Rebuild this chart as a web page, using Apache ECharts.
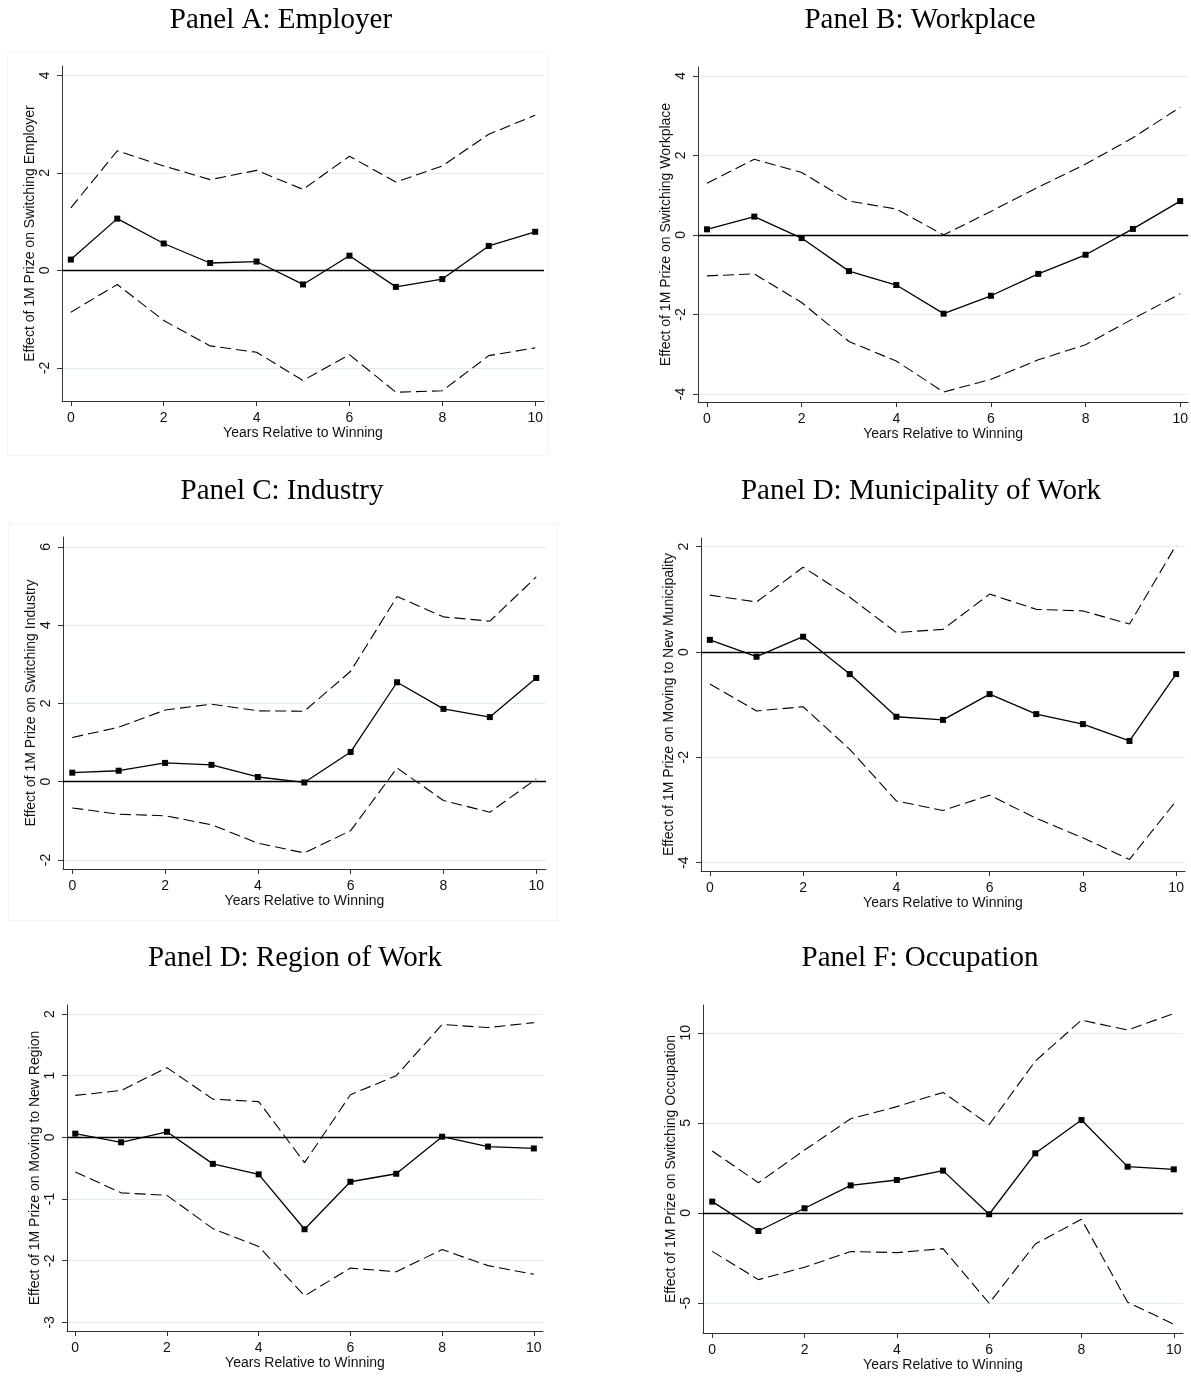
<!DOCTYPE html>
<html>
<head>
<meta charset="utf-8">
<title>Effect of 1M Prize on job switching</title>
<script src="https://cdn.jsdelivr.net/npm/echarts@6/dist/echarts.min.js"></script>
<style>
    html, body { margin: 0; padding: 0; background: #fff; }
    #chart { width: 1191px; height: 1384px; }
</style>
</head>
<body>
<div id="chart"></div>
<script>
// years after the win (x axis) and the ticks shown on it
var years = [0, 1, 2, 3, 4, 5, 6, 7, 8, 9, 10];
var xTicks = [0, 2, 4, 6, 8, 10];

var panelTitles = ['Panel A: Employer', 'Panel B: Workplace', 'Panel C: Industry',
    'Panel D: Municipality of Work', 'Panel D: Region of Work', 'Panel F: Occupation'];
var yTitles = ['Effect of 1M Prize on Switching Employer', 'Effect of 1M Prize on Switching Workplace',
    'Effect of 1M Prize on Switching Industry', 'Effect of 1M Prize on Moving to New Municipality',
    'Effect of 1M Prize on Moving to New Region', 'Effect of 1M Prize on Switching Occupation'];
var xTitle = 'Years Relative to Winning';

// Panel A: employer
var employerEst = [0.22, 1.06, 0.55, 0.15, 0.18, -0.29, 0.30, -0.34, -0.18, 0.50, 0.79];
var employerHi = [1.28, 2.45, 2.14, 1.86, 2.05, 1.66, 2.34, 1.81, 2.14, 2.79, 3.18];
var employerLo = [-0.86, -0.29, -1.03, -1.55, -1.68, -2.26, -1.73, -2.50, -2.47, -1.75, -1.59];
var employerTicks = [-2, 0, 2, 4];

// Panel B: workplace
var workplaceEst = [0.14, 0.46, -0.08, -0.91, -1.26, -1.98, -1.53, -0.98, -0.50, 0.15, 0.85];
var workplaceHi = [1.30, 1.90, 1.57, 0.85, 0.65, 0.00, 0.59, 1.20, 1.78, 2.44, 3.21];
var workplaceLo = [-1.03, -0.98, -1.70, -2.68, -3.17, -3.95, -3.63, -3.14, -2.76, -2.11, -1.48];
var workplaceTicks = [-4, -2, 0, 2, 4];

// Panel C: industry
var industryEst = [0.23, 0.28, 0.48, 0.43, 0.12, -0.02, 0.76, 2.54, 1.86, 1.65, 2.65];
var industryHi = [1.13, 1.39, 1.83, 1.98, 1.81, 1.80, 2.82, 4.73, 4.21, 4.10, 5.23];
var industryLo = [-0.67, -0.83, -0.87, -1.10, -1.57, -1.82, -1.25, 0.35, -0.48, -0.78, 0.07];
var industryTicks = [-2, 0, 2, 4, 6];

// Panel D: municipality of work
var municipalityEst = [0.23, -0.09, 0.29, -0.42, -1.23, -1.29, -0.80, -1.18, -1.37, -1.69, -0.42];
var municipalityHi = [1.08, 0.95, 1.61, 1.04, 0.37, 0.43, 1.10, 0.81, 0.78, 0.53, 2.03];
var municipalityLo = [-0.61, -1.12, -1.04, -1.85, -2.83, -3.01, -2.72, -3.16, -3.53, -3.94, -2.83];
var municipalityTicks = [-4, -2, 0, 2];

// Panel D (second): region of work
var regionEst = [0.06, -0.08, 0.09, -0.43, -0.60, -1.49, -0.72, -0.59, 0.01, -0.15, -0.18];
var regionHi = [0.68, 0.76, 1.13, 0.62, 0.58, -0.41, 0.69, 1.00, 1.83, 1.78, 1.86];
var regionLo = [-0.56, -0.90, -0.94, -1.48, -1.77, -2.57, -2.12, -2.18, -1.82, -2.08, -2.22];
var regionTicks = [-3, -2, -1, 0, 1, 2];

// Panel F: occupation
var occupationEst = [0.63, -1.00, 0.26, 1.53, 1.83, 2.35, -0.07, 3.31, 5.16, 2.57, 2.42];
var occupationHi = [3.44, 1.68, 3.49, 5.23, 5.90, 6.69, 4.90, 8.43, 10.70, 10.15, 11.07];
var occupationLo = [-2.13, -3.70, -3.01, -2.14, -2.20, -1.98, -5.01, -1.72, -0.35, -4.95, -6.17];
var occupationTicks = [-5, 0, 5, 10];

// where each panel sits on the page (pixels) and how far its axes run
var layout = [
    {left: 62, top: 66, width: 482, height: 335, xMin: -0.19, xMax: 10.19, yMin: -2.68, yMax: 4.19, titleX: 281, titleY: 6, nameGap: 24},
    {left: 698, top: 67, width: 491, height: 335, xMin: -0.19, xMax: 10.17, yMin: -4.2, yMax: 4.22, titleX: 920, titleY: 6, nameGap: 25},
    {left: 63, top: 537, width: 483, height: 332, xMin: -0.2, xMax: 10.21, yMin: -2.23, yMax: 6.25, titleX: 282, titleY: 477, nameGap: 24},
    {left: 701, top: 538, width: 484, height: 333, xMin: -0.19, xMax: 10.19, yMin: -4.16, yMax: 2.165, titleX: 921, titleY: 477, nameGap: 22},
    {left: 67, top: 1005, width: 476, height: 326, xMin: -0.18, xMax: 10.2, yMin: -3.14, yMax: 2.146, titleX: 295, titleY: 944, nameGap: 24},
    {left: 703, top: 1005, width: 480, height: 328, xMin: -0.2, xMax: 10.2, yMin: -6.66, yMax: 11.54, titleX: 920, titleY: 944, nameGap: 24}
];

var panels = [
    {est: employerEst, hi: employerHi, lo: employerLo, ticks: employerTicks},
    {est: workplaceEst, hi: workplaceHi, lo: workplaceLo, ticks: workplaceTicks},
    {est: industryEst, hi: industryHi, lo: industryLo, ticks: industryTicks},
    {est: municipalityEst, hi: municipalityHi, lo: municipalityLo, ticks: municipalityTicks},
    {est: regionEst, hi: regionHi, lo: regionLo, ticks: regionTicks},
    {est: occupationEst, hi: occupationHi, lo: occupationLo, ticks: occupationTicks}
];

var sansFont = '"Liberation Sans", Arial, sans-serif';
var serifFont = '"Liberation Serif", "Times New Roman", serif';
var axisColor = '#333';

function pairs(values) {
    return years.map(function (y, i) { return [y, values[i]]; });
}

var option = {
    backgroundColor: '#fff',
    animation: false,
    title: [],
    grid: [],
    xAxis: [],
    yAxis: [],
    series: [],
    // faint frames that show round two of the panels
    graphic: [
        {type: 'rect', silent: true, shape: {x: 7.5, y: 52.5, width: 541, height: 403},
            style: {fill: null, stroke: '#f3f3f3', lineWidth: 1}},
        {type: 'rect', silent: true, shape: {x: 8.5, y: 523.5, width: 549, height: 397},
            style: {fill: null, stroke: '#f3f3f3', lineWidth: 1}}
    ]
};

panels.forEach(function (p, i) {
    var l = layout[i];

    option.title.push({
        text: panelTitles[i],
        left: l.titleX,
        top: l.titleY,
        textAlign: 'center',
        padding: 0,
        textStyle: {fontFamily: serifFont, fontSize: 29, fontWeight: 'normal', color: '#000'}
    });

    option.grid.push({left: l.left, top: l.top, width: l.width, height: l.height, containLabel: false});

    option.xAxis.push({
        gridIndex: i,
        type: 'value',
        min: l.xMin,
        max: l.xMax,
        name: xTitle,
        nameLocation: 'middle',
        nameGap: 24,
        nameTextStyle: {fontFamily: sansFont, fontSize: 14, color: '#111'},
        axisLine: {show: true, onZero: false, lineStyle: {color: axisColor, width: 1}},
        axisTick: {show: true, customValues: xTicks, length: 5, lineStyle: {color: axisColor}},
        axisLabel: {customValues: xTicks, margin: 10, fontFamily: sansFont, fontSize: 14, color: '#111'},
        splitLine: {show: false}
    });

    option.yAxis.push({
        gridIndex: i,
        type: 'value',
        min: l.yMin,
        max: l.yMax,
        name: yTitles[i],
        nameLocation: 'middle',
        nameRotate: 90,
        nameGap: l.nameGap,
        nameTextStyle: {fontFamily: sansFont, fontSize: 14, color: '#111'},
        axisLine: {show: true, onZero: false, lineStyle: {color: axisColor, width: 1}},
        axisTick: {show: true, customValues: p.ticks, length: 5, lineStyle: {color: axisColor}},
        axisLabel: {customValues: p.ticks, rotate: 90, margin: 10, fontFamily: sansFont, fontSize: 14, color: '#111'},
        splitLine: {show: true, lineStyle: {color: '#e4eded', width: 1}}
    });

    // upper and lower bounds
    [p.hi, p.lo].forEach(function (bound) {
        option.series.push({
            type: 'line',
            xAxisIndex: i,
            yAxisIndex: i,
            data: pairs(bound),
            symbol: 'none',
            silent: true,
            lineStyle: {color: '#000', width: 1.1, type: [11, 5]}
        });
    });

    // point estimate with the zero line
    option.series.push({
        type: 'line',
        xAxisIndex: i,
        yAxisIndex: i,
        data: pairs(p.est),
        symbol: 'rect',
        symbolSize: 6,
        silent: true,
        itemStyle: {color: '#000'},
        lineStyle: {color: '#000', width: 1.3},
        markLine: {
            silent: true,
            symbol: ['none', 'none'],
            label: {show: false},
            lineStyle: {color: '#000', width: 1.3, type: 'solid'},
            data: [{yAxis: 0}]
        }
    });
});

var chart = echarts.init(document.getElementById('chart'));
chart.setOption(option);
</script>
</body>
</html>
